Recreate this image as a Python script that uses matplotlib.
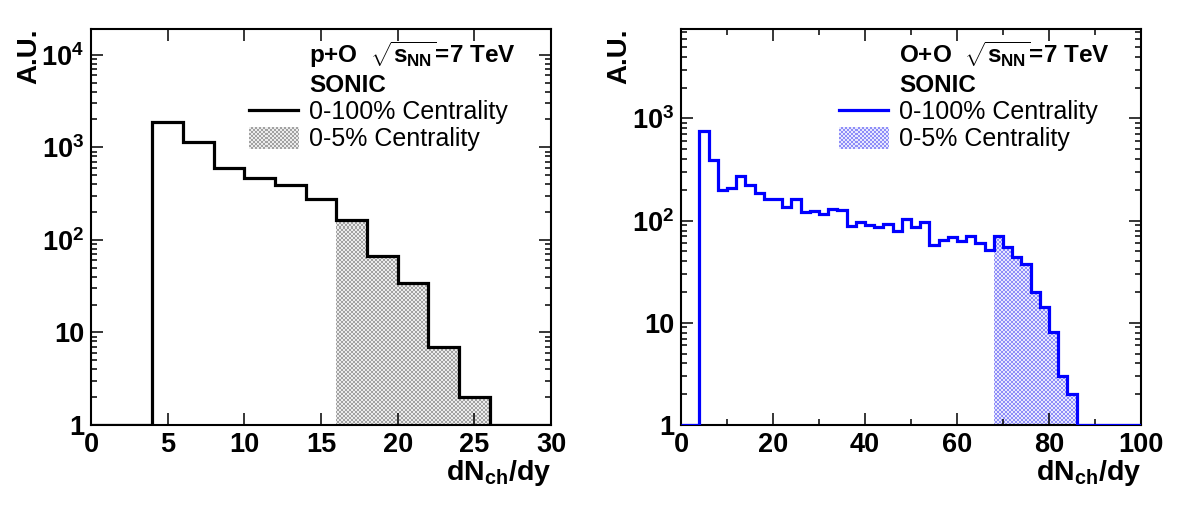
import numpy as np
import matplotlib
matplotlib.use("Agg")
import matplotlib.pyplot as plt
from matplotlib.colors import ListedColormap
from matplotlib.lines import Line2D
from matplotlib.patches import Rectangle


############################
# Data
############################

# p+O : dNch/dy bins of width 2 from 0 to 30
po_edges = np.arange(0, 31, 2)
po_counts = np.array([0, 0, 1870, 1130, 605, 470, 395, 279,
                      163, 66.5, 34, 7.0, 2.0, 0, 0])
po_central = (16, 26)

# O+O : dNch/dy bins of width 2 from 0 to 100
oo_edges = np.arange(0, 101, 2)
oo_counts = np.array([0, 0, 760, 396, 200, 207, 276, 222, 185, 163,
                      163, 135, 163, 122, 123, 116, 131, 127, 88, 96,
                      90, 86, 93, 79, 104, 87, 97, 58, 65, 69,
                      63, 71, 60, 52, 71, 55, 44, 38, 20, 14.3,
                      8.1, 3.0, 2.0, 0, 0, 0, 0, 0, 0, 0])
oo_central = (68, 86)

po_title = r"p+O  $\sqrt{s_{NN}}$=7 TeV"
oo_title = r"O+O  $\sqrt{s_{NN}}$=7 TeV"
model = "SONIC"
labels = ["0-100% Centrality", "0-5% Centrality"]

plt.rcParams["font.family"] = ["Liberation Sans", "DejaVu Sans"]
plt.rcParams["mathtext.fontset"] = "custom"
plt.rcParams["mathtext.rm"] = "Liberation Sans:bold"
plt.rcParams["mathtext.it"] = "Liberation Sans:bold"
plt.rcParams["mathtext.bf"] = "Liberation Sans:bold"

YMIN = 1.0


############################
# Functions
############################


def checker_image(ax, clip, dark, light):
    pattern = np.add.outer(np.arange(198), np.arange(230)) % 2
    im = ax.imshow(pattern, cmap=ListedColormap([light, dark]),
                   extent=(0, 1, 0, 1), transform=ax.transAxes,
                   aspect="auto", interpolation="nearest", zorder=1)
    im.set_clip_path(clip)


def checker_fill(ax, counts, edges, lo, hi, dark, light):
    sel = (edges[:-1] >= lo) & (edges[1:] <= hi)
    sub_edges = edges[np.concatenate([sel, [False]]) | np.concatenate([[False], sel])]
    clip = ax.stairs(np.maximum(counts[sel], YMIN), sub_edges, baseline=YMIN,
                     fill=True, facecolor="none", edgecolor="none")
    checker_image(ax, clip, dark, light)


def draw_panel(ax, counts, edges, central, color, dark, light,
               ymax, xmajor, xminor, title):
    checker_fill(ax, counts, edges, central[0], central[1], dark, light)
    ax.stairs(np.maximum(counts, YMIN), edges, baseline=None,
              color=color, linewidth=2.3, zorder=3)

    ax.set_yscale("log")

    decades = [d for d in [1, 10, 100, 1000, 10000] if d <= ymax]
    names = {1: "1", 10: "10", 100: r"$10^{2}$", 1000: r"$10^{3}$",
             10000: r"$10^{4}$"}
    ax.set_yticks(decades, [names[d] for d in decades])
    minors = [m * d for d in decades for m in range(2, 10) if m * d < ymax]
    ax.set_yticks(minors, minor=True)
    ax.set_xticks(xmajor)
    ax.set_xticks(xminor, minor=True)

    ax.tick_params(which="both", direction="in", top=True, right=True,
                   width=1.1, labelsize=19.5)
    ax.tick_params(which="major", length=8.6)
    ax.tick_params(which="minor", length=4.6)
    ax.tick_params(axis="y", pad=5)
    ax.tick_params(axis="x", pad=5)
    for lab in ax.get_xticklabels() + ax.get_yticklabels():
        lab.set_fontweight("bold")
    for sp in ax.spines.values():
        sp.set_linewidth(1.5)

    # axis titles
    ax.text(1.0, -0.139, r"dN$_{ch}$/dy", transform=ax.transAxes,
            ha="right", va="baseline", fontsize=20.5, fontweight="bold")
    ax.text(-0.135, 1.0, "A.U.", transform=ax.transAxes, rotation=90,
            ha="center", va="top", fontsize=20, fontweight="bold")

    # legend block
    fy = lambda ypx: (425 - ypx) / 396.0
    tx = 0.474
    ax.text(tx, fy(63), title, transform=ax.transAxes, ha="left",
            va="baseline", fontsize=17.5, fontweight="bold")
    ax.text(tx, fy(92), model, transform=ax.transAxes, ha="left",
            va="baseline", fontsize=17.5, fontweight="bold")
    ax.text(tx, fy(119), labels[0], transform=ax.transAxes, ha="left",
            va="baseline", fontsize=18)
    ax.text(tx, fy(146), labels[1], transform=ax.transAxes, ha="left",
            va="baseline", fontsize=18)
    ax.add_line(Line2D([0.343, 0.450], [fy(110), fy(110)],
                       transform=ax.transAxes, color=color, linewidth=2.3))
    key = Rectangle((0.343, fy(149)), 0.107, fy(127) - fy(149),
                    transform=ax.transAxes, facecolor="none", edgecolor="none")
    ax.add_patch(key)
    checker_image(ax, key, dark, light)

    ax.set_xlim(edges[0], edges[-1])
    ax.set_ylim(YMIN, ymax)


############################
# Program
############################

fig = plt.figure(figsize=(11.82, 5.05), dpi=100)
ax1 = fig.add_axes([91 / 1182, 80 / 505, 460 / 1182, 396 / 505])
ax2 = fig.add_axes([681 / 1182, 80 / 505, 460 / 1182, 396 / 505])

draw_panel(ax1, po_counts, po_edges, po_central, "black",
           "#a2a2a2", "#ececec", 1.9e4, np.arange(0, 31, 5), [], po_title)
draw_panel(ax2, oo_counts, oo_edges, oo_central, "#0000ff",
           "#8e8ef8", "#e8e8fe", 7500, np.arange(0, 101, 20),
           np.arange(10, 100, 20), oo_title)

fig.savefig("out.png", dpi=100)
